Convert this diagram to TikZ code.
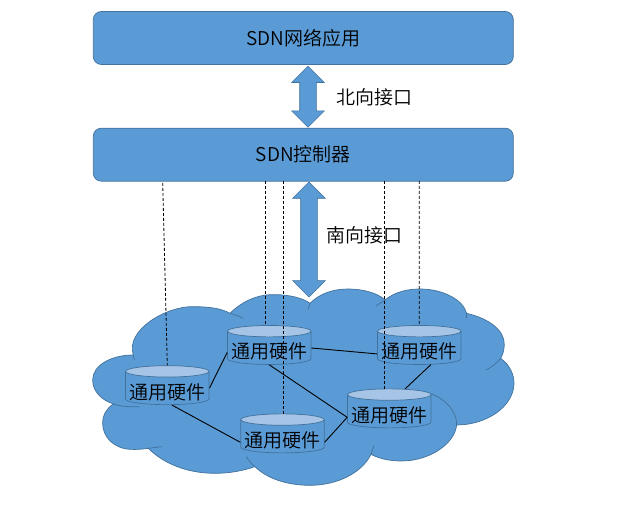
\documentclass[tikz,border=0pt]{standalone}
\usepackage{fontspec}
\setmainfont{Noto Sans CJK SC DemiLight}
\usetikzlibrary{positioning,shapes.geometric,shapes.arrows}
\definecolor{fillblue}{HTML}{5B9BD5}
\definecolor{edgeblue}{HTML}{41719C}
\definecolor{topblue}{HTML}{A5C4E6}
\newcommand{\hwtext}{\raisebox{-11pt}[0pt][0pt]{通用硬件}}

\begin{document}
\begin{tikzpicture}[
		x=1pt, y=-1pt,
		font=\fontsize{19}{21}\selectfont,
		link/.style={line width=0.9pt},
		drop/.style={densely dashed, line width=0.8pt},
		block/.style={draw=edgeblue, fill=fillblue, rounded corners=8pt, minimum height=53pt, minimum width=420pt, align=center, inner sep=0pt, line width=0.7pt},
		updown/.style={draw=edgeblue, fill=fillblue, double arrow, rotate=90, double arrow tip angle=90, double arrow head extend=8pt, inner xsep=0pt, inner ysep=8pt, line width=0.6pt},
		hardware/.style={draw=edgeblue, cylinder, shape border rotate=90, aspect=0.15, cylinder uses custom fill, cylinder body fill=fillblue, cylinder end fill=topblue, minimum width=83.5pt, minimum height=39pt, inner sep=0pt, line width=0.7pt},
	]
		\useasboundingbox (0,0) rectangle (630,505);

		% cloud
		\begin{scope}[shift={(80,280)}, x=0.3333pt, y=-0.3333pt, draw=edgeblue, line width=0.7pt]
			\draw[fill=fillblue] (160,225)
				.. controls (135,150) and (260,78) .. (340,80)
				.. controls (385,80) and (425,85) .. (450,100)
				.. controls (490,60) and (540,42) .. (585,44)
				.. controls (630,44) and (670,55) .. (690,70)
				.. controls (720,40) and (760,27) .. (805,27)
				.. controls (850,27) and (895,40) .. (915,60)
				.. controls (945,35) and (985,27) .. (1020,27)
				.. controls (1090,27) and (1150,60) .. (1160,100)
				.. controls (1225,115) and (1275,150) .. (1273,195)
				.. controls (1272,212) and (1268,225) .. (1262,235)
				.. controls (1290,255) and (1303,285) .. (1302,312)
				.. controls (1300,380) and (1220,435) .. (1130,435)
				.. controls (1125,490) and (1050,543) .. (965,543)
				.. controls (930,543) and (900,537) .. (873,523)
				.. controls (845,580) and (770,616) .. (690,616)
				.. controls (620,616) and (560,595) .. (525,560)
				.. controls (490,572) and (450,580) .. (405,580)
				.. controls (320,580) and (250,550) .. (205,505)
				.. controls (185,508) and (170,509) .. (150,508)
				.. controls (100,505) and (68,470) .. (68,430)
				.. controls (68,405) and (80,385) .. (100,372)
				.. controls (65,360) and (38,335) .. (38,300)
				.. controls (38,255) and (95,225) .. (160,225) -- cycle;
			\draw (450,100) .. controls (465,104) and (480,110) .. (490,115);
			\draw (690,70) -- (685,88);
			\draw (915,60) -- (888,78);
			\draw (1160,100) -- (1160,115);
			\draw (1262,235) .. controls (1250,250) and (1235,262) .. (1218,270);
			\draw (1130,435) .. controls (1132,395) and (1095,355) .. (1050,340);
			\draw (873,523) -- (882,497);
			\draw (525,560) .. controls (515,552) and (505,542) .. (500,530);
			\draw (205,505) -- (245,500);
			\draw (100,372) .. controls (125,380) and (150,381) .. (178,380);
			\draw (160,225) -- (163,240);
		\end{scope}

		\node (app) [block] at (303.3,38) {SDN网络应用};
		\node (ctrl) [block, below=63pt of app] {SDN控制器};
		\node (north) [updown, minimum height=61pt] at (308,96.7) {};
		\node (south) [updown, minimum height=115pt] at (309,239.5) {};
		\node (northlabel) at (374.7,97) {北向接口};
		\node (southlabel) at (364.8,235) {南向接口};

		\node (hw1) [hardware] at (167.3,388.2) {\hwtext};
		\node (hw2) [hardware] at (269.3,348) {\hwtext};
		\node (hw3) [hardware] at (419.3,348) {\hwtext};
		\node (hw4) [hardware] at (389.3,411.4) {\hwtext};
		\node (hw5) [hardware] at (282.5,436.4) {\hwtext};

		\coordinate (d1) at (162.7,183);
		\coordinate (d2) at (265.3,181);
		\coordinate (d3) at (283.3,181);
		\coordinate (d4) at (384.3,181);
		\coordinate (d5) at (419.3,181);

		\draw[drop] (d1) -- (hw1.north);
		\draw[drop] (d2) -- (d2 |- hw2.north);
		\draw[drop] (d3) -- (d3 |- hw5.north);
		\draw[drop] (d4) -- (d4 |- hw4.north);
		\draw[drop] (d5) -- (hw3.north);

		\draw[link] (hw1.east) -- (hw2.186);
		\draw[link] (hw2.east) -- (hw3.188);
		\draw[link] (hw2.south) -- (hw4.188);
		\draw[link] (hw3.-55) -- (hw4.55);
		\draw[link] (hw1.-75) -- (hw5.188);
		\draw[link] (hw5.-8) -- (hw4.188);
	\end{tikzpicture}
\end{document}
